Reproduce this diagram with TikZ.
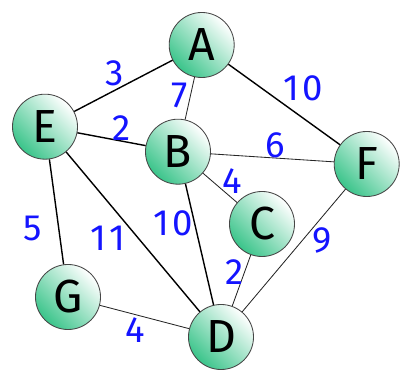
\documentclass[tikz,border=0pt]{standalone}
\usepackage{fontspec}
\setsansfont{Fira Sans}
\usepackage{tikz}
\definecolor{vertgreen}{RGB}{58,196,138}
\definecolor{vertline}{RGB}{70,70,70}
\definecolor{weightblue}{RGB}{20,20,255}
\tikzset{
  vertex/.style={circle, draw=vertline, line width=0.6pt, minimum size=1.625cm, inner sep=0pt, top color=white, bottom color=vertgreen, shading angle=-45, font=\fontsize{33}{33}\sffamily\mdseries, text=black},
  heavyedge/.style={draw=black, line width=1pt},
  lightedge/.style={draw=black!85, line width=0.6pt},
  weight/.style={font=\fontsize{26}{26}\sffamily\addfontfeatures{LetterSpace=8}, text=weightblue, inner sep=0pt}
}
\begin{document}
\begin{tikzpicture}[x=0.025cm,y=-0.025cm]
  \useasboundingbox (0,0) rectangle (410,385);

  \node[vertex] (A) at (201.7,45) {A};
  \node[vertex] (E) at (45,126.7) {E};
  \node[vertex] (B) at (178,151.7) {B};
  \node[vertex] (F) at (366.7,164) {F};
  \node[vertex] (C) at (262,224) {C};
  \node[vertex] (G) at (68,297) {G};
  \node[vertex] (D) at (221,337) {D};

  \draw[heavyedge] (A) -- (E);
  \draw[lightedge] (A) -- (B);
  \draw[heavyedge] (A) -- (F);
  \draw[heavyedge] (E) -- (B);
  \draw[lightedge] (B) -- (F);
  \draw[lightedge] (B) -- (C);
  \draw[heavyedge] (E) -- (G);
  \draw[heavyedge] (E) -- (D);
  \draw[heavyedge] (B) -- (D);
  \draw[lightedge] (C) -- (D);
  \draw[lightedge] (F) -- (D);
  \draw[lightedge] (G) -- (D);

  \node[weight] (wAE) at (115,73) {3};
  \node[weight] (wAB) at (180,95) {7};
  \node[weight] (wAF) at (303,88) {10};
  \node[weight] (wEB) at (122,128) {2};
  \node[weight] (wBF) at (275,145) {6};
  \node[weight] (wBC) at (232,181) {4};
  \node[weight] (wEG) at (33,228) {5};
  \node[weight] (wED) at (108,238) {11};
  \node[weight] (wBD) at (173,223) {10};
  \node[weight] (wCD) at (235,272) {2};
  \node[weight] (wFD) at (322,240) {9};
  \node[weight] (wGD) at (135,330) {4};
\end{tikzpicture}
\end{document}
